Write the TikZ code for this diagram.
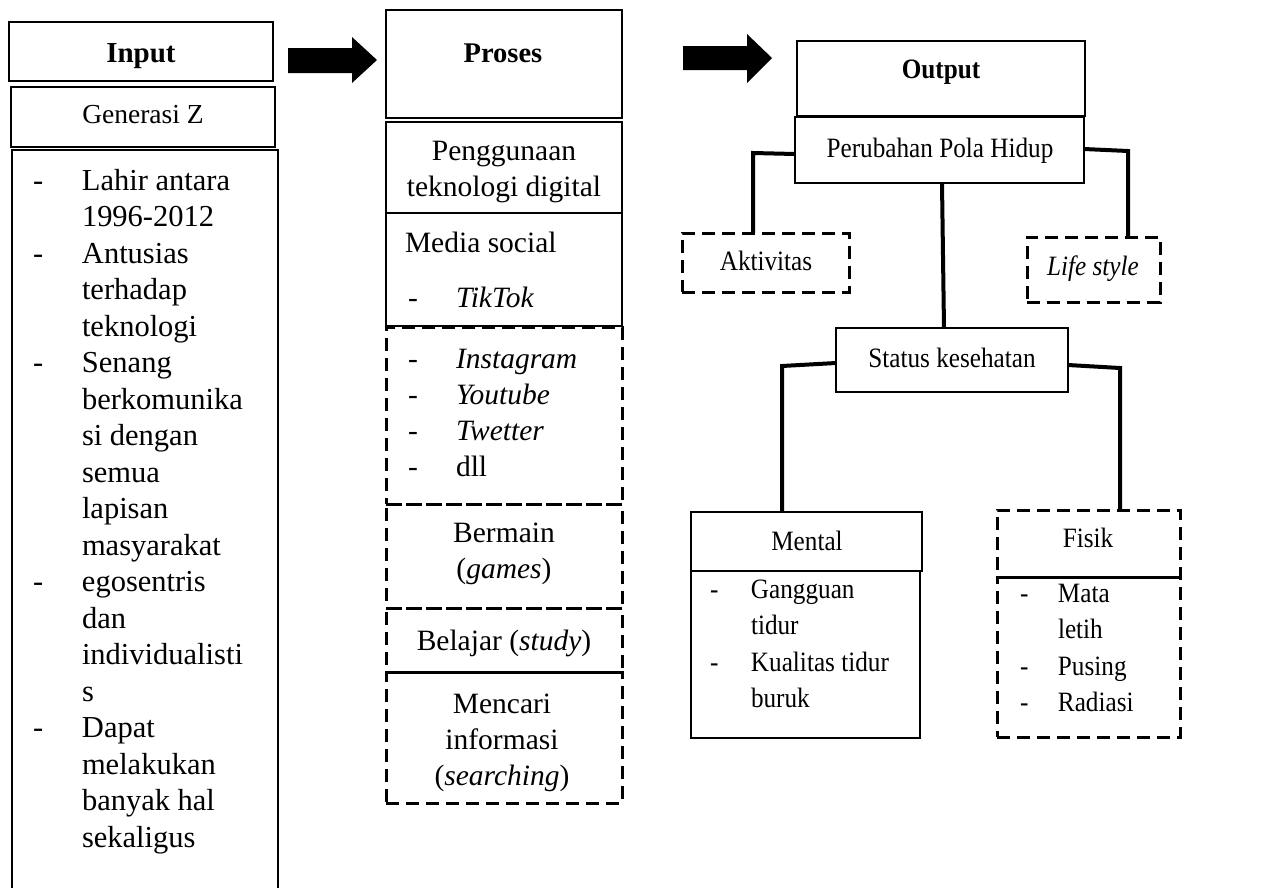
\documentclass[tikz,border=0pt]{standalone}
\usepackage{fontspec}
\setmainfont{Liberation Serif}
\newfontfamily\outfont{Liberation Serif}[FakeStretch=0.9]
\usetikzlibrary{fit}
\newcommand\fsz{\fontsize{28}{36.5}\selectfont}
\newcommand\fszin{\fontsize{30.5}{36.5}\selectfont}
\newcommand\fszpro{\fontsize{29.5}{36.3}\selectfont}
\begin{document}
\begin{tikzpicture}[x=1pt,y=-1pt,
  sbox/.style={draw, line width=2.5pt, inner sep=0pt, outer sep=0pt},
  dbox/.style={draw, line width=3pt, dash pattern=on 13pt off 7pt, inner sep=0pt, outer sep=0pt},
  conn/.style={line width=4pt},
  txt/.style={inner sep=0pt, outer sep=0pt, font=\fsz},
  ptxt/.style={inner sep=0pt, outer sep=0pt, font=\fszpro},
  otxt/.style={inner sep=0pt, outer sep=0pt, font=\outfont\fsz},
  blockarrow/.style={fill=black}]
\useasboundingbox (0,0) rectangle (1262,887);

% ---------------- Input column
\node[sbox, fit={(9,22)(273,81)}] (inbox) {};
\node[txt, font=\fontsize{29}{36}\selectfont\bfseries, anchor=base] (inT) at (141,62) {Input};
\node[sbox, fit={(11,87)(275,147)}] (genbox) {};
\node[txt, font=\fontsize{27.5}{36}\selectfont, anchor=base] (genT) at (143,123) {Generasi Z};
\node[sbox, fit={(12,150)(278,910)}] (listbox) {};
\node[txt, font=\fszin, anchor=base west] (listT) at (33,190) {\begin{tabular}[t]{@{}p{49pt}@{}l@{}}
-&Lahir antara\\ &1996-2012\\ -&Antusias\\ &terhadap\\ &teknologi\\
-&Senang\\ &berkomunika\\ &si dengan\\ &semua\\ &lapisan\\ &masyarakat\\
-&egosentris\\ &dan\\ &individualisti\\ &s\\
-&Dapat\\ &melakukan\\ &banyak hal\\ &sekaligus\end{tabular}};

% ---------------- arrows
\fill[blockarrow] (288,48) -- (352,48) -- (352,37) -- (377,60) -- (352,83) -- (352,73) -- (288,73) -- cycle;
\fill[blockarrow] (683,46) -- (747,46) -- (747,34) -- (772,58) -- (747,83) -- (747,70) -- (683,70) -- cycle;

% ---------------- Proses column
\node[sbox, fit={(386,10)(622,118)}] (probox) {};
\node[ptxt, font=\fontsize{28.5}{36}\selectfont\bfseries, anchor=base] (proT) at (503,62) {Proses};
\node[sbox, fit={(386,122)(622,213)}] (pengbox) {};
\node[ptxt, anchor=base] (pengT) at (504,160) {\begin{tabular}[t]{@{}c@{}}Penggunaan\\teknologi digital\end{tabular}};
\node[sbox, fit={(386,213)(622,326)}] (medbox) {};
\node[ptxt, anchor=base west] (medT) at (405,252) {Media social};
\node[ptxt, anchor=base west] (tikT) at (408,307) {\begin{tabular}[t]{@{}p{48pt}@{}l@{}}-&\textit{TikTok}\end{tabular}};
\node[dbox, fit={(386,327)(622,504)}] (igbox) {};
\node[ptxt, anchor=base west] (igT) at (408,368) {\begin{tabular}[t]{@{}p{48pt}@{}l@{}}-&\textit{Instagram}\\ -&\textit{Youtube}\\ -&\textit{Twetter}\\ -&dll\end{tabular}};
\node[dbox, fit={(386,504)(622,608)}] (gamebox) {};
\node[ptxt, anchor=base] (gameT) at (504,542) {\begin{tabular}[t]{@{}c@{}}Bermain\\(\textit{games})\end{tabular}};
\node[dbox, fit={(386,608)(622,672)}] (studybox) {};
\node[ptxt, anchor=base] (studyT) at (504,650) {Belajar (\textit{study})};
\node[dbox, fit={(386,672)(622,803)}] (searchbox) {};
\node[ptxt, anchor=base] (searchT) at (502,713) {\begin{tabular}[t]{@{}c@{}}Mencari\\informasi\\(\textit{searching})\end{tabular}};

% ---------------- Output column
\node[sbox, fit={(797,41)(1085,116)}] (outbox) {};
\node[otxt, font=\outfont\fsz\bfseries, anchor=base] (outT) at (941,78) {Output};
\node[sbox, fit={(795,117)(1084,183)}] (perbox) {};
\node[otxt, anchor=base] (perT) at (940,157) {Perubahan Pola Hidup};
\node[dbox, fit={(682,233)(849,292)}] (aktbox) {};
\node[otxt, anchor=base] (aktT) at (766,270) {Aktivitas};
\node[dbox, fit={(1027,237)(1160,302)}] (lifebox) {};
\node[otxt, anchor=base] (lifeT) at (1093,275) {\textit{Life style}};
\node[sbox, fit={(836,328)(1068,392)}] (stabox) {};
\node[otxt, anchor=base] (staT) at (952,367) {Status kesehatan};
\node[sbox, fit={(691,512)(922,571)}] (menbox) {};
\node[otxt, anchor=base] (menT) at (807,550) {Mental};
\node[sbox, fit={(691,571)(920,738)}] (menlist) {};
\node[otxt, anchor=base west] (menL) at (710,598) {\begin{tabular}[t]{@{}p{41pt}@{}l@{}}-&Gangguan\\ &tidur\\ -&Kualitas tidur\\ &buruk\end{tabular}};
\node[dbox, fit={(997,510)(1180,577)}] (fisbox) {};
\node[otxt, anchor=base] (fisT) at (1088,547) {Fisik};
\node[dbox, fit={(997,577)(1180,737)}] (fislist) {};
\node[otxt, anchor=base west] (fisL) at (1020,602) {\begin{tabular}[t]{@{}p{38pt}@{}l@{}}-&Mata\\ &letih\\ -&Pusing\\ -&Radiasi\end{tabular}};

% ---------------- connectors
\coordinate (c1) at (753,153);
\coordinate (c2) at (1128,151);
\coordinate (c3) at (782,366);
\coordinate (c4) at (1120,368);
\draw[conn] ([yshift=-4pt]perbox.west) -- (c1) -- (c1 |- aktbox.north);
\draw[conn] ([yshift=1pt]perbox.east) -- (c2) -- (c2 |- lifebox.north);
\draw[conn] ([xshift=2.5pt]perbox.south) -- ([xshift=-8pt]stabox.north);
\draw[conn] ([yshift=-3pt]stabox.west) -- (c3) -- (c3 |- menbox.north);
\draw[conn] ([yshift=-5pt]stabox.east) -- (c4) -- (c4 |- fisbox.north);
\end{tikzpicture}
\end{document}
